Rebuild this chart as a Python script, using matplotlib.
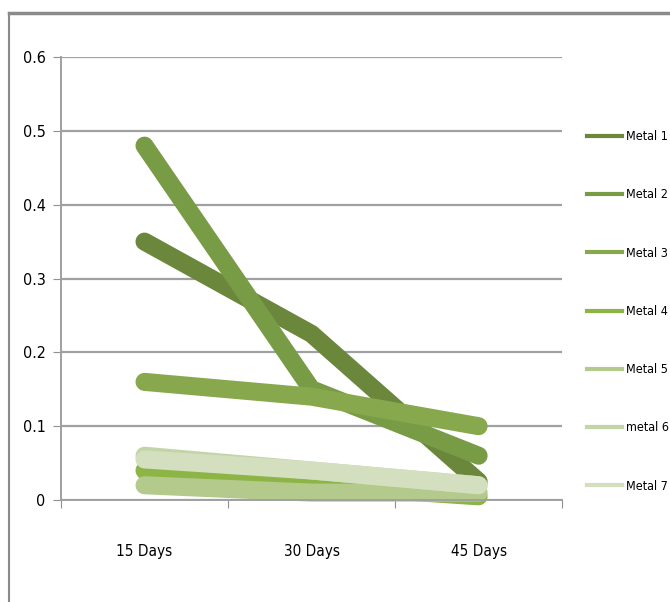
import matplotlib
matplotlib.use("Agg")
import matplotlib.pyplot as plt
from matplotlib.lines import Line2D
import numpy as np

plt.rcParams['font.family'] = ['DejaVu Sans']
plt.rcParams['font.stretch'] = 'condensed'

days = ['15 Days', '30 Days', '45 Days']
metal_1 = [0.35, 0.225, 0.025]
metal_2 = [0.48, 0.15, 0.06]
metal_3 = [0.16, 0.14, 0.10]
metal_4 = [0.04, 0.02, 0.005]
metal_5 = [0.02, 0.01, 0.01]
metal_6 = [0.06, 0.04, 0.02]
metal_7 = [0.055, 0.04, 0.02]

names = ['Metal 1', 'Metal 2', 'Metal 3', 'Metal 4', 'Metal 5', 'metal 6', 'Metal 7']
series = [metal_1, metal_2, metal_3, metal_4, metal_5, metal_6, metal_7]
colours = ['#6a873b', '#789b45', '#88a84d', '#8db546', '#b3ca8c', '#c3d5a6', '#d3dfbf']

fig = plt.figure(figsize=(6.7, 6.02), dpi=100)
ax = fig.add_axes([0.091, 0.1694, 0.748, 0.7359])

x = np.arange(len(days))
handles = []
for vals, name, c in zip(series, names, colours):
    ax.plot(x, vals, color=c, lw=13, solid_capstyle='round',
            solid_joinstyle='round', clip_on=False)
    handles.append(Line2D([], [], color=c, lw=3))

ax.set_xlim(-0.5, 2.5)
ax.set_ylim(0, 0.6)
ax.set_yticks(np.arange(0, 0.61, 0.1))
ax.set_yticklabels(['0', '0.1', '0.2', '0.3', '0.4', '0.5', '0.6'])
ax.yaxis.grid(True, color='#a0a0a0', lw=1.6)
ax.set_axisbelow(True)

# category labels sit between boundary ticks
ax.set_xticks([-0.5, 0.5, 1.5, 2.5])
ax.set_xticklabels([])
ax.set_xticks(x, minor=True)
ax.set_xticklabels(days, minor=True)
ax.tick_params(axis='x', which='minor', length=0, pad=32, labelsize=11)
ax.tick_params(axis='x', which='major', length=6, color='#909090')
ax.tick_params(axis='y', length=6, color='#909090', labelsize=11.5, pad=5)

for s in ['top', 'right']:
    ax.spines[s].set_visible(False)
for s in ['left', 'bottom']:
    ax.spines[s].set_color('#a0a0a0')
    ax.spines[s].set_linewidth(1.4)

leg = fig.legend(handles, names, loc='upper left', bbox_to_anchor=(0.869, 0.792),
                 frameon=False, fontsize=9, handlelength=2.8, handletextpad=0.3,
                 labelspacing=3.62, borderaxespad=0)

# outer chart frame
fig.add_artist(Line2D([0.013, 1.0], [0.979, 0.979], color='#8a8a8a', lw=2.5,
                      transform=fig.transFigure))
fig.add_artist(Line2D([0.014, 0.014], [0.979, 0.0], color='#8a8a8a', lw=1.5,
                      transform=fig.transFigure))

fig.savefig('out.png', dpi=100)
